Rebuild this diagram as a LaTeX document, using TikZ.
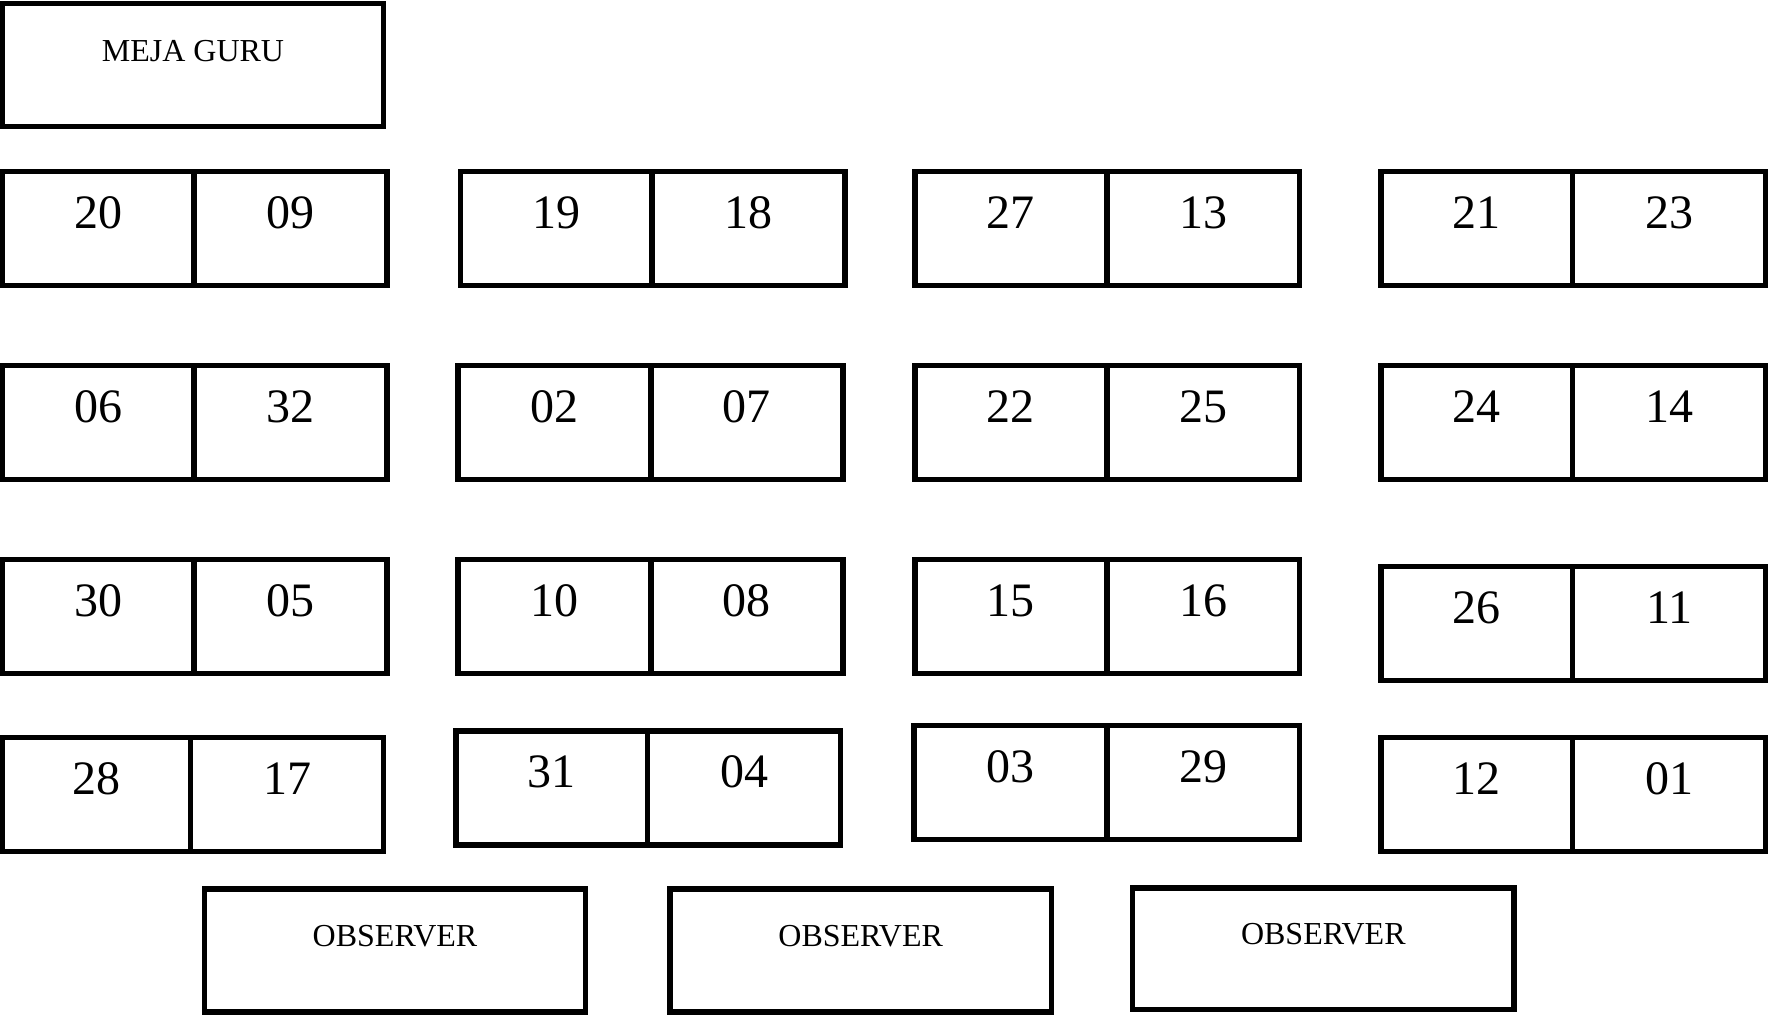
\documentclass[tikz,border=0pt]{standalone}
\usepackage{fontspec}
\setmainfont{Liberation Serif}
\newcommand\deskpair[7]{%
  \draw[desk] (#1,#4) rectangle (#3,#5);
  \draw[desk] (#2,#4) -- (#2,#5);
  \node[num] (n#6) at ({(#1+#2)/2},{#4+57}) {#6};
  \node[num] (n#7) at ({(#2+#3)/2},{#4+57}) {#7};
}
\begin{document}
\begin{tikzpicture}[x=0.5pt,y=-0.5pt,
  desk/.style={draw=black,line width=2.7pt},
  num/.style={font=\fontsize{24}{24}\selectfont,anchor=base,inner sep=0pt},
  lbl/.style={font=\fontsize{16}{16}\selectfont,anchor=base,inner sep=0pt}]
\useasboundingbox (0,0) rectangle (1769,1015);
% teacher desk
\draw[desk] (2.3,3.4) rectangle (383.6,126.4);
\node[lbl] (guru) at (193,62) {MEJA GURU};
% row 1
\deskpair{2.3}{194}{387}{171.5}{285.4}{20}{09}
\deskpair{460.3}{652}{845}{171.5}{285.4}{19}{18}
\deskpair{915}{1106.8}{1299.7}{171.5}{285.4}{27}{13}
\deskpair{1381}{1572.7}{1765.6}{171.5}{285.4}{21}{23}
% row 2
\deskpair{2.3}{194}{387}{365.5}{479.5}{06}{32}
\deskpair{458}{651}{842.8}{365.5}{479.5}{02}{07}
\deskpair{915}{1106.8}{1299.7}{365.5}{479.5}{22}{25}
\deskpair{1381}{1572.7}{1765.6}{365.5}{479.5}{24}{14}
% row 3
\deskpair{2.3}{194}{387}{559.6}{673.5}{30}{05}
\deskpair{458}{651}{842.8}{559.6}{673.5}{10}{08}
\deskpair{915}{1106.8}{1299.7}{559.6}{673.5}{15}{16}
\deskpair{1381}{1572.7}{1765.6}{566.4}{680.3}{26}{11}
% row 4
\deskpair{2.3}{190.7}{383.6}{737.8}{851.8}{28}{17}
\deskpair{455.8}{647.6}{840.5}{731}{845}{31}{04}
\deskpair{913.8}{1106.8}{1299.7}{725.4}{839.4}{03}{29}
\deskpair{1381}{1572.7}{1765.6}{737.8}{851.8}{12}{01}
% observers
\draw[desk] (204.2,889) rectangle (585.5,1012);
\node[lbl] (obs1) at (395,947) {OBSERVER};
\draw[desk] (670,889) rectangle (1051.5,1012);
\node[lbl] (obs2) at (860.7,947) {OBSERVER};
\draw[desk] (1132.7,888) rectangle (1514,1009.7);
\node[lbl] (obs3) at (1323.3,945) {OBSERVER};
\end{tikzpicture}
\end{document}
